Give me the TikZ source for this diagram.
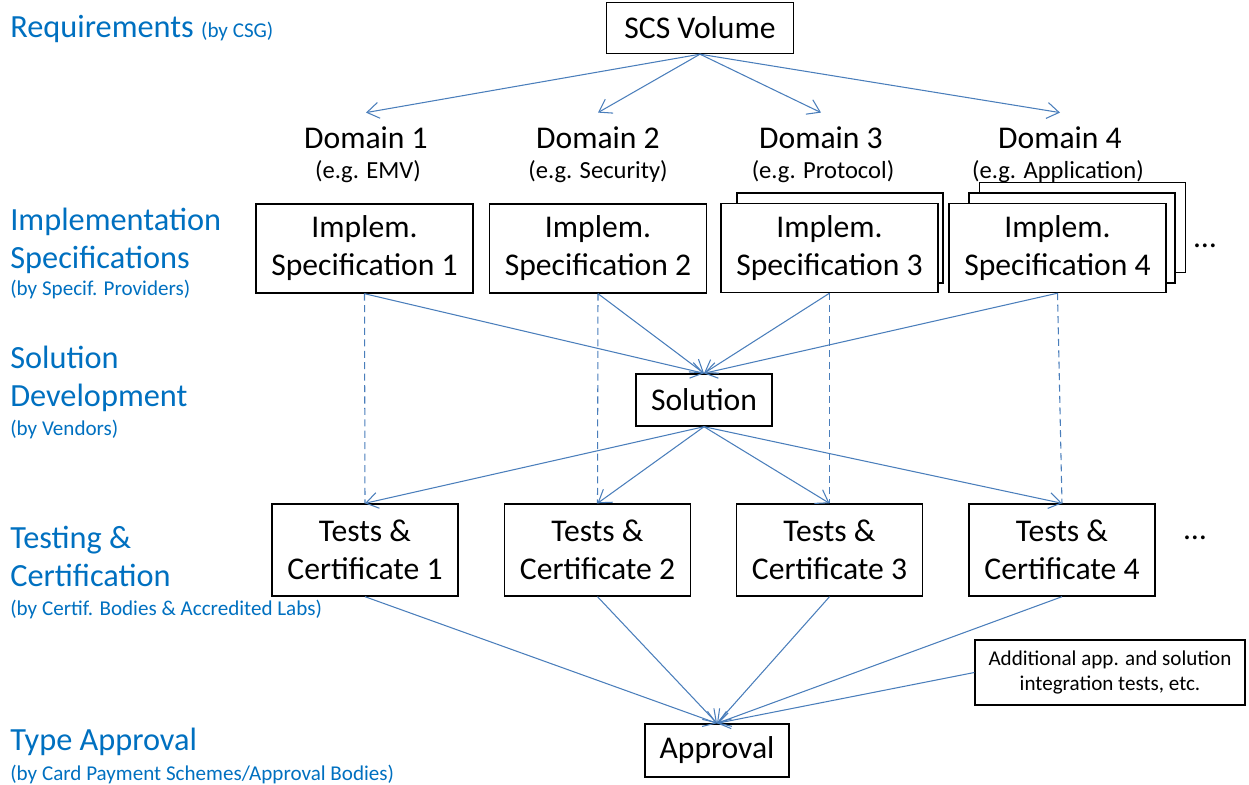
\documentclass[tikz,border=0pt]{standalone}
\usepackage{fontspec}
\setmainfont{Carlito}
\usetikzlibrary{arrows.meta}
\definecolor{lblblue}{RGB}{0,112,192}
\definecolor{lnblue}{RGB}{74,126,187}

\begin{document}
\begin{tikzpicture}[x=0.02cm,y=-0.02cm,
    >={Straight Barb[length=2.4mm,width=3.2mm]},
    box/.style={draw,line width=0.8pt,fill=white,align=center,inner sep=0pt,
      font=\fontsize{18}{21.6}\selectfont},
    spec/.style={box,minimum width=4.34cm,minimum height=1.78cm},
    back/.style={box,minimum width=4.12cm,minimum height=1.8cm},
    test/.style={box,minimum width=3.72cm,minimum height=1.84cm},
    dom/.style={font=\fontsize{18}{21.6}\selectfont,inner sep=8pt},
    eg/.style={font=\fontsize{14}{17}\selectfont,inner sep=0pt},
    lvl/.style={anchor=base west,inner sep=0pt,text=lblblue,font=\fontsize{18.4}{22}\selectfont},
    by/.style={lvl,font=\fontsize{12}{14}\selectfont},
    link/.style={->,draw=lnblue,line width=0.6pt},
    trace/.style={draw=lnblue,line width=0.6pt,dash pattern=on 4pt off 2.5pt}]

  \useasboundingbox (0,0) rectangle (1249,785);

  % levels on the left
  \node[lvl] (Lr)  at (10,37)  {Requirements {\fontsize{12}{14}\selectfont (by CSG)}};
  \node[lvl] (Li1) at (10,230) {Implementation};
  \node[lvl] (Li2) at (10,268) {Specifications};
  \node[by]  (Li3) at (10,295) {(by Specif. Providers)};
  \node[lvl] (Ls1) at (10,368) {Solution};
  \node[lvl] (Ls2) at (10,406) {Development};
  \node[by]  (Ls3) at (10,435) {(by Vendors)};
  \node[lvl] (Lt1) at (10,548) {Testing \&};
  \node[lvl] (Lt2) at (10,586) {Certification};
  \node[by]  (Lt3) at (10,615) {(by Certif. Bodies \& Accredited Labs)};
  \node[lvl] (La1) at (10,750) {Type Approval};
  \node[by]  (La2) at (10,780) {(by Card Payment Schemes/Approval Bodies)};

  \node[box,minimum width=3.74cm,minimum height=1.02cm] (Sc) at (700,28) {SCS Volume};

  % stacked specifications
  \node[back] (B3)  at (840,238)      {};
  \node[back] (B4b) at (1082.5,227.5) {};
  \node[back] (B4a) at (1072,238)     {};

  \node[spec] (I1) at (364.5,248.5) {Implem.\\Specification 1};
  \node[spec] (I2) at (598,248.5)   {Implem.\\Specification 2};
  \node[spec] (I3) at (829.5,248)   {Implem.\\Specification 3};
  \node[spec] (I4) at (1057.5,248)  {Implem.\\Specification 4};
  \node[dom,inner sep=0pt] (M1) at (1205,246) {…};

  \node[dom] (D1) at (366,138)  {Domain 1};
  \node[dom] (D2) at (598,138)  {Domain 2};
  \node[dom] (D3) at (821,138)  {Domain 3};
  \node[dom] (D4) at (1060,138) {Domain 4};
  \node[eg]  (E1) at (368,172)  {(e.g. EMV)};
  \node[eg]  (E2) at (598,172)  {(e.g. Security)};
  \node[eg]  (E3) at (823,172)  {(e.g. Protocol)};
  \node[eg]  (E4) at (1058,172) {(e.g. Application)};

  \node[box,minimum width=2.72cm,minimum height=1.04cm] (So) at (704,400) {Solution};

  \node[test] (T1) at (365,550)   {Tests \&\\Certificate 1};
  \node[test] (T2) at (597.5,550) {Tests \&\\Certificate 2};
  \node[test] (T3) at (829.5,550) {Tests \&\\Certificate 3};
  \node[test] (T4) at (1062,550)  {Tests \&\\Certificate 4};
  \node[dom,inner sep=0pt] (M2) at (1195,538) {…};

  \node[box,minimum width=2.88cm,minimum height=1.06cm] (Ap) at (717,750.5) {Approval};
  \node[box,minimum width=5.4cm,minimum height=1.3cm,
        font=\fontsize{12}{13.7}\selectfont] (Ad) at (1110,672.5)
        {Additional app. and solution\\integration tests, etc.};

  % connectors
  \path (Sc.south) edge[link] (D1.north) edge[link] (D2.north)
                   edge[link] (D3.north) edge[link] (D4.north);
  \draw[trace] (I1.south) -- (T1.north);
  \draw[trace] (I2.south) -- (T2.north);
  \draw[trace] (I3.south) -- (T3.north);
  \draw[trace] (I4.south) -- (T4.north);
  \path (So.north) edge[link,<-] (I1.south) edge[link,<-] (I2.south)
                   edge[link,<-] (I3.south) edge[link,<-] (I4.south);
  \path (So.south) edge[link] (T1.north) edge[link] (T2.north)
                   edge[link] (T3.north) edge[link] (T4.north);
  \path (Ap.north) edge[link,<-] (T1.south) edge[link,<-] (T2.south)
                   edge[link,<-] (T3.south) edge[link,<-] (T4.south)
                   edge[link,<-] (Ad.west);
\end{tikzpicture}
\end{document}
